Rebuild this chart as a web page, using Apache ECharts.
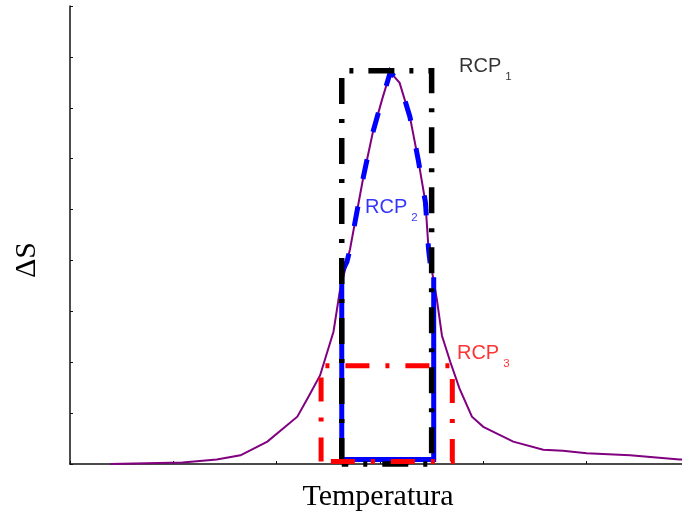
<!DOCTYPE html>
<html>
<head>
<meta charset="utf-8">
<script src="https://cdn.jsdelivr.net/npm/echarts@6/dist/echarts.min.js"></script>
<style>
  html, body { margin: 0; padding: 0; background: #fff; }
  #chart { width: 682px; height: 517px; }
</style>
</head>
<body>
<div id="chart"></div>
<script>
// Axis ranges (ticks every 1 unit, no tick labels); the x axis runs off the right edge
const xRange = [0, 5.923];
const yRange = [0, 9];

// Entropy change ΔS against temperature: [temperature, ΔS]
const entropyCurve = [
  [0.39, 0.00], [1.09, 0.03], [1.42, 0.09], [1.65, 0.17], [1.91, 0.44],
  [2.20, 0.93], [2.30, 1.29], [2.42, 1.74], [2.55, 2.60], [2.61, 3.38],
  [2.68, 3.97], [2.71, 4.22], [2.84, 5.65], [2.93, 6.51], [3.02, 7.16],
  [3.10, 7.70], [3.19, 7.49], [3.29, 6.82], [3.37, 5.98], [3.44, 5.14],
  [3.47, 4.22], [3.50, 3.83], [3.55, 3.24], [3.60, 2.52], [3.68, 2.01],
  [3.77, 1.48], [3.89, 0.93], [4.00, 0.73], [4.29, 0.44], [4.58, 0.28],
  [4.77, 0.26], [5.00, 0.21], [5.42, 0.17], [5.90, 0.09], [6.00, 0.08]
];

// RCP2: upper edge follows the peak, lower part is a rectangle
const rcp2Top = [
  [2.63, 3.77], [2.68, 3.97], [2.71, 4.22], [2.84, 5.65], [2.93, 6.51],
  [3.02, 7.16], [3.10, 7.70], [3.19, 7.49], [3.29, 6.82], [3.37, 5.98],
  [3.44, 5.14], [3.47, 4.22], [3.49, 3.87]
];
const rcp2Base = [[3.52, 3.67], [3.52, 0.09], [2.63, 0.09], [2.63, 3.77]];

// Rectangles: [xMin, xMax, yMin, yMax]
const rcp1Box = [2.63, 3.50, 0.00, 7.73];
const rcp3Box = [2.43, 3.70, 0.05, 1.93];

// Label anchors (top-left of each label)
const rcp1Label = [3.765, 8.00];
const rcp2Label = [2.855, 5.23];
const rcp3Label = [3.745, 2.37];

function boxPath(b) {
  return [[b[0], b[2]], [b[0], b[3]], [b[1], b[3]], [b[1], b[2]], [b[0], b[2]]];
}

function lineSeries(data, color, width, type, z) {
  return {
    type: 'line', data: data, z: z, silent: true,
    symbol: 'none', showSymbol: false, clip: false, animation: false,
    lineStyle: { color: color, width: width, type: type, cap: 'butt', join: 'miter' }
  };
}

function labelSeries(pos, color, sub) {
  return {
    type: 'scatter', data: [pos], symbolSize: 0, silent: true, z: 20, animation: false,
    label: {
      show: true, position: [0, 0], align: 'left', verticalAlign: 'top',
      formatter: '{m|RCP}{s|' + sub + '}',
      rich: {
        m: { fontFamily: 'Liberation Sans', fontSize: 20, lineHeight: 21, verticalAlign: 'top', color: color },
        s: { fontFamily: 'Liberation Sans', fontSize: 11.5, verticalAlign: 'top', color: color, padding: [14, 0, 0, 4] }
      }
    }
  };
}

const chart = echarts.init(document.getElementById('chart'), null, { renderer: 'canvas' });

const axisCommon = {
  type: 'value',
  axisLine: { show: true, onZero: false, lineStyle: { color: '#111', width: 1.5 } },
  axisTick: { show: true, inside: true, length: 3, lineStyle: { color: '#111', width: 1 } },
  axisLabel: { show: false },
  splitLine: { show: false },
  nameLocation: 'middle'
};

chart.setOption({
  backgroundColor: '#fff',
  animation: false,
  grid: { left: 70, top: 6, width: 612, height: 459.5, containLabel: false },
  xAxis: Object.assign({}, axisCommon, {
    min: xRange[0], max: xRange[1], interval: 1,
    name: 'Temperatura', nameGap: 18,
    nameTextStyle: { fontFamily: 'Liberation Serif', fontSize: 30, color: '#000', padding: [0, 0, 0, 4] }
  }),
  yAxis: Object.assign({}, axisCommon, {
    min: yRange[0], max: yRange[1], interval: 1,
    name: 'ΔS', nameGap: 28,
    nameTextStyle: { fontFamily: 'Liberation Serif', fontSize: 30, color: '#000', padding: [0, 50, 0, 0] }
  }),
  series: [
    lineSeries(entropyCurve, '#800080', 2, 'solid', 2),
    lineSeries(rcp2Base, '#0000ff', 5, 'solid', 3),
    lineSeries(rcp2Top, '#0000ff', 5, [20, 28], 4),
    lineSeries(boxPath(rcp1Box), '#000000', 5.5, [26, 15, 4, 15], 5),
    lineSeries(boxPath(rcp3Box), '#ff0000', 5, [24, 16, 4, 16], 6),
    labelSeries(rcp1Label, '#000000', '1'),
    labelSeries(rcp2Label, '#0000ff', '2'),
    labelSeries(rcp3Label, '#ff0000', '3')
  ]
});
</script>
</body>
</html>
